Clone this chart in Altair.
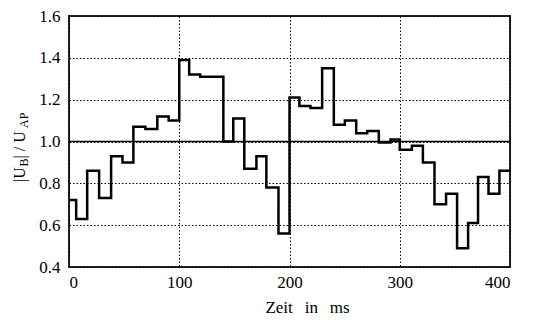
import altair as alt
import pandas as pd

# step start times (ms) and the ratio |U_B|/U_AP held from each start
t_start = [0, 6.5, 16.5, 27.3, 38.2, 48.5, 58.4, 69.3, 80.1, 90.4,
           100, 109, 119, 140, 149, 159, 170, 179, 190,
           200, 209, 219, 229.6, 240.2, 250.2, 260.5, 270.5, 281, 291.6,
           300, 311, 321, 331.5, 342, 352, 362, 371, 380.5, 390.4]
ratio = [0.72, 0.63, 0.86, 0.73, 0.93, 0.90, 1.07, 1.06, 1.12, 1.10,
         1.39, 1.32, 1.31, 1.00, 1.11, 0.87, 0.93, 0.78, 0.56,
         1.21, 1.17, 1.16, 1.35, 1.08, 1.10, 1.04, 1.05, 0.995, 1.01,
         0.96, 0.98, 0.90, 0.70, 0.75, 0.49, 0.61, 0.83, 0.75, 0.86]
t_end = 400

x_ticks = [0, 100, 200, 300, 400]
y_ticks = [0.4, 0.6, 0.8, 1.0, 1.2, 1.4, 1.6]
ref_level = [1.0]

FONT = "Liberation Serif"

df = pd.DataFrame({"t": t_start + [t_end], "r": ratio + [ratio[-1]]})

xs = alt.Scale(domain=[0, 400], nice=False, zero=False)
ys = alt.Scale(domain=[0.4, 1.6], nice=False, zero=False)

x_axis = alt.Axis(values=x_ticks, format="d", title="Zeit\u2002\u2009in\u2002\u2009ms",
                  titleX=238, titleY=45, titleAlign="center", titleBaseline="alphabetic",
                  labelPadding=7)
y_axis = alt.Axis(values=y_ticks, format=".1f", title=None, labelPadding=9)

line = alt.Chart(df).mark_line(interpolate="step-after", color="black",
                               strokeWidth=2.5, strokeJoin="miter").encode(
    x=alt.X("t:Q", scale=xs, axis=x_axis),
    y=alt.Y("r:Q", scale=ys, axis=y_axis),
)

rule = alt.Chart(pd.DataFrame({"y": ref_level})).mark_rule(
    color="black", strokeWidth=1.5).encode(y=alt.Y("y:Q", scale=ys))

def piece(txt, size, xv, yv):
    return alt.Chart(pd.DataFrame({"s": [txt]})).mark_text(
        font=FONT, fontSize=size, angle=270, align="left",
        baseline="alphabetic", color="black").encode(
        text="s:N", x=alt.value(xv), y=alt.value(yv))

title_parts = [
    piece("|U", 16, -44, 166),
    piece("B", 12, -41, 150.5),
    piece("| / U", 16, -44, 142.5),
    piece("AP", 12, -41, 112),
]

chart = alt.layer(rule, line, *title_parts).properties(
    width=441, height=251,
    autosize=alt.AutoSizeParams(type="none"),
    padding={"left": 61, "top": 8, "right": 14, "bottom": 48},
).configure(font=FONT).configure_axis(
    labelFont=FONT, labelFontSize=17, labelColor="black",
    titleFont=FONT, titleFontSize=17, titleFontWeight="normal", titleColor="black",
    tickSize=0, domain=False,
    grid=True, gridColor="black", gridDash=[1.5, 2], gridWidth=1, gridOpacity=1,
).configure_view(stroke="#222", strokeWidth=2)

chart.save("out.html", embed_options={"renderer": "svg", "actions": False})
